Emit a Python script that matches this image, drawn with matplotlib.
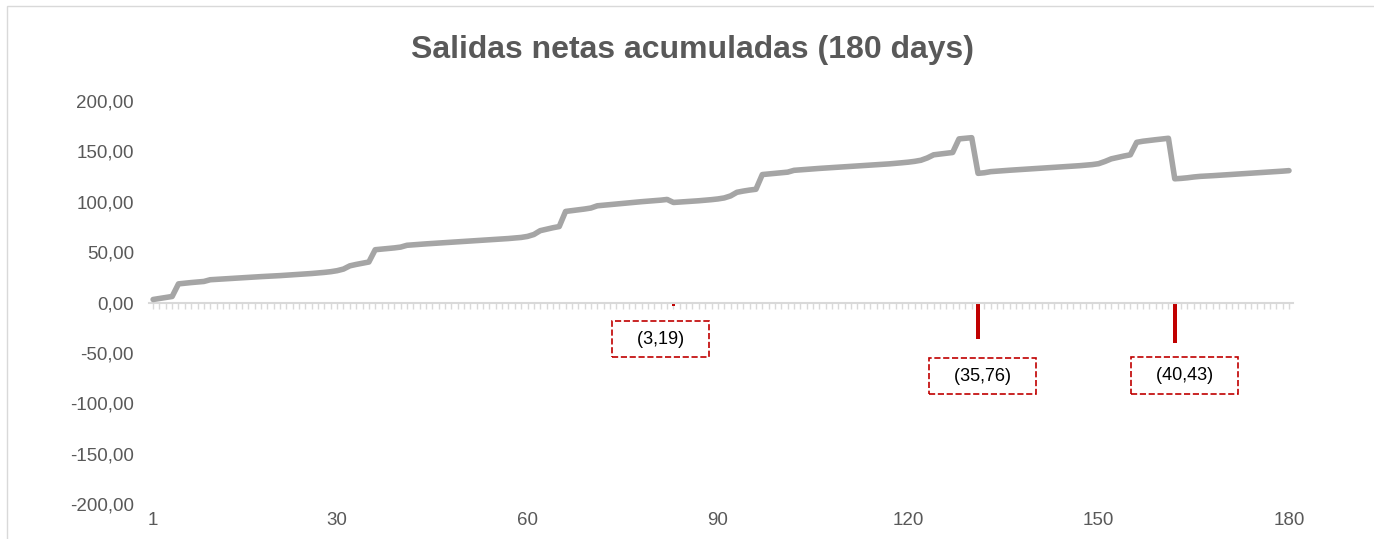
import matplotlib.pyplot as plt
from matplotlib.patches import Rectangle

# -----------------------------
# DATA
# -----------------------------
days = list(range(1, 181))

acumulado = [
    3.0, 4.0, 5.0, 6.0, 18.5, 19.2, 19.8, 20.3, 20.9, 22.6,
    23.0, 23.4, 23.8, 24.2, 24.6, 25.0, 25.4, 25.7, 26.0, 26.4,
    26.7, 27.1, 27.5, 27.9, 28.3, 28.8, 29.3, 29.9, 30.6, 31.6,
    33.2, 36.4, 37.8, 39.0, 40.2, 52.4, 53.0, 53.6, 54.2, 55.0,
    56.8, 57.3, 57.8, 58.2, 58.6, 59.0, 59.4, 59.8, 60.2, 60.6,
    61.0, 61.4, 61.8, 62.2, 62.6, 63.0, 63.5, 64.0, 64.6, 65.6,
    67.5, 71.3, 72.8, 74.2, 75.4, 90.4, 91.2, 92.0, 92.8, 93.8,
    96.0, 96.6, 97.2, 97.8, 98.4, 99.0, 99.6, 100.1, 100.6, 101.1,
    101.6, 102.3, 99.3, 99.7, 100.1, 100.5, 101.0, 101.5, 102.1, 102.8,
    103.8, 105.8, 109.4, 110.6, 111.6, 112.4, 127.0, 127.6, 128.2, 128.8,
    129.4, 131.2, 131.7, 132.2, 132.7, 133.1, 133.5, 133.9, 134.3, 134.7,
    135.1, 135.5, 135.9, 136.3, 136.7, 137.1, 137.6, 138.1, 138.7, 139.3,
    140.1, 141.2, 143.5, 146.6, 147.4, 148.2, 148.9, 162.4, 163.0, 163.6,
    128.2, 128.8, 129.9, 130.4, 130.9, 131.3, 131.7, 132.1, 132.5, 132.9,
    133.3, 133.7, 134.1, 134.5, 134.9, 135.3, 135.8, 136.3, 136.9, 137.8,
    140.0, 142.6, 144.0, 145.4, 146.6, 159.0, 160.1, 160.9, 161.6, 162.3,
    163.0, 122.8, 123.2, 123.8, 124.6, 125.2, 125.5, 125.9, 126.3, 126.7,
    127.1, 127.5, 127.9, 128.3, 128.7, 129.1, 129.5, 129.9, 130.4, 130.9,
]

# salidas puntuales (dias con salida neta)
salida_dias = [83, 131, 162]
salida_valores = [-3.19, -35.76, -40.43]
salida_etiquetas = ["(3,19)", "(35,76)", "(40,43)"]

x_ticks = [1, 30, 60, 90, 120, 150, 180]
y_ticks = [200, 150, 100, 50, 0, -50, -100, -150, -200]

# -----------------------------
# STYLE
# -----------------------------
plt.rcParams['font.family'] = ['Liberation Sans', 'DejaVu Sans']
TEXT_GRAY = "#595959"
LINE_GRAY = "#a5a5a5"
AXIS_GRAY = "#d9d9d9"
RED = "#c00000"

fig = plt.figure(figsize=(13.74, 5.39), dpi=100)
ax = fig.add_axes([0.1082, 0.0649, 0.8327, 0.7477])

# borde del grafico
fig.patches.append(Rectangle((7 / 1374, -0.05), 1.2, 1 - 6 / 539 + 0.05,
                             transform=fig.transFigure, fill=False,
                             edgecolor=AXIS_GRAY, linewidth=1.0))

# serie acumulada
ax.plot(days, acumulado, color=LINE_GRAY, linewidth=4.0,
        solid_joinstyle='round', solid_capstyle='round', zorder=3)

# salidas (columnas rojas)
ax.bar(salida_dias, salida_valores, width=0.6, color=RED, zorder=2)

# etiquetas con recuadro discontinuo
offsets = [(-9, -24), (3, -27), (7, -23)]
for d, v, lab, off in zip(salida_dias, salida_valores, salida_etiquetas, offsets):
    ax.annotate("   " + lab + "   ", xy=(d, v), xytext=off, textcoords='offset points',
                ha='center', va='center', fontsize=13, color='black',
                bbox=dict(boxstyle='square,pad=0.55', fc='white', ec=RED,
                          ls='--', lw=1.2))

ax.set_xlim(0.3, 180.6)
ax.set_ylim(-200, 200)

# eje horizontal en y=0 con marcas diarias
ax.spines['bottom'].set_position(('data', 0))
ax.spines['bottom'].set_color(AXIS_GRAY)
ax.spines['bottom'].set_linewidth(1.5)
for s in ['top', 'right', 'left']:
    ax.spines[s].set_visible(False)
ax.set_xticks(days)
ax.set_xticklabels([])
ax.tick_params(axis='x', length=4, width=1, color=AXIS_GRAY, direction='out')

# etiquetas del eje x abajo
sec = ax.secondary_xaxis(0.0)
sec.set_xticks(x_ticks)
sec.set_xticklabels([str(t) for t in x_ticks])
sec.tick_params(length=0, pad=6, labelsize=13.5, labelcolor=TEXT_GRAY)
sec.spines['bottom'].set_visible(False)

ax.set_yticks(y_ticks)
ax.set_yticklabels([f"{t:.2f}".replace('.', ',') for t in y_ticks])
ax.tick_params(axis='y', length=0, pad=10.5, labelsize=13.5, labelcolor=TEXT_GRAY)

fig.text(0.504, 1 - 50 / 539, "Salidas netas acumuladas (180 days)",
         ha='center', va='center', fontsize=23, fontweight='bold', color=TEXT_GRAY)

fig.savefig("out.png", dpi=100)
